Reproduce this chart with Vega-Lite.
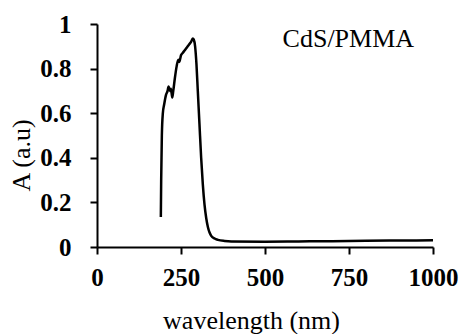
{
  "$schema": "https://vega.github.io/schema/vega-lite/v6.json",
  "width": 336,
  "height": 223,
  "autosize": {"type": "none"},
  "padding": {"left": 97, "top": 24, "right": 28, "bottom": 87},
  "background": "white",
  "config": {"view": {"stroke": null}, "font": "Liberation Serif"},
  "datasets": {
    "spectrum": [
      {"wl": 190, "A": 0.135},
      {"wl": 191, "A": 0.30},
      {"wl": 193, "A": 0.50},
      {"wl": 196, "A": 0.60},
      {"wl": 200, "A": 0.64},
      {"wl": 205, "A": 0.68},
      {"wl": 210, "A": 0.70},
      {"wl": 213, "A": 0.72},
      {"wl": 217, "A": 0.70},
      {"wl": 220, "A": 0.71},
      {"wl": 224, "A": 0.67},
      {"wl": 227, "A": 0.70},
      {"wl": 232, "A": 0.76},
      {"wl": 237, "A": 0.81},
      {"wl": 242, "A": 0.84},
      {"wl": 245, "A": 0.83},
      {"wl": 250, "A": 0.86},
      {"wl": 255, "A": 0.87},
      {"wl": 260, "A": 0.88},
      {"wl": 265, "A": 0.89},
      {"wl": 270, "A": 0.90},
      {"wl": 275, "A": 0.91},
      {"wl": 280, "A": 0.92},
      {"wl": 285, "A": 0.935},
      {"wl": 288, "A": 0.93},
      {"wl": 292, "A": 0.90},
      {"wl": 296, "A": 0.82},
      {"wl": 300, "A": 0.70},
      {"wl": 305, "A": 0.55},
      {"wl": 310, "A": 0.40},
      {"wl": 315, "A": 0.28},
      {"wl": 320, "A": 0.19},
      {"wl": 325, "A": 0.13},
      {"wl": 330, "A": 0.09},
      {"wl": 335, "A": 0.065},
      {"wl": 340, "A": 0.05},
      {"wl": 350, "A": 0.038},
      {"wl": 360, "A": 0.032},
      {"wl": 380, "A": 0.027},
      {"wl": 400, "A": 0.025},
      {"wl": 500, "A": 0.024},
      {"wl": 600, "A": 0.025},
      {"wl": 700, "A": 0.026},
      {"wl": 800, "A": 0.028},
      {"wl": 900, "A": 0.029},
      {"wl": 1000, "A": 0.030}
    ],
    "labels": [{"wl": 748, "A": 0.897, "text": "CdS/PMMA"}]
  },
  "layer": [
    {
      "data": {"name": "spectrum"},
      "mark": {"type": "line", "color": "black", "strokeWidth": 2.5, "interpolate": "monotone"},
      "encoding": {
        "x": {
          "field": "wl", "type": "quantitative",
          "scale": {"domain": [0, 1000], "nice": false, "zero": false},
          "axis": {
            "title": "wavelength (nm)", "values": [0, 250, 500, 750, 1000], "format": "d",
            "grid": false, "domainColor": "black", "domainWidth": 2,
            "tickColor": "black", "tickWidth": 2, "tickSize": 7,
            "labelFont": "Liberation Serif", "labelFontSize": 25, "labelFontWeight": "bold",
            "labelColor": "black", "labelPadding": 11, "labelFlush": false,
            "titleFont": "Liberation Serif", "titleFontSize": 26, "titleFontWeight": "normal",
            "titleColor": "black", "titleX": 154, "titleY": 81, "titleBaseline": "alphabetic",
            "titleAnchor": "middle", "titleAlign": "center"
          }
        },
        "y": {
          "field": "A", "type": "quantitative",
          "scale": {"domain": [0, 1], "nice": false},
          "axis": {
            "title": "A (a.u)", "values": [0, 0.2, 0.4, 0.6, 0.8, 1], "format": "~g",
            "grid": false, "domainColor": "black", "domainWidth": 2,
            "tickColor": "black", "tickWidth": 2, "tickSize": 7,
            "labelFont": "Liberation Serif", "labelFontSize": 25, "labelFontWeight": "bold",
            "labelColor": "black", "labelPadding": 19, "labelFlush": false,
            "titleFont": "Liberation Serif", "titleFontSize": 26, "titleFontWeight": "normal",
            "titleColor": "black", "titleX": -76, "titleY": 131, "titleAngle": -90,
            "titleBaseline": "middle", "titleAlign": "center"
          }
        }
      }
    },
    {
      "data": {"name": "labels"},
      "mark": {"type": "text", "font": "Liberation Serif", "fontSize": 26, "color": "black", "align": "center", "baseline": "alphabetic"},
      "encoding": {
        "x": {"field": "wl", "type": "quantitative"},
        "y": {"field": "A", "type": "quantitative"},
        "text": {"field": "text"}
      }
    }
  ]
}
